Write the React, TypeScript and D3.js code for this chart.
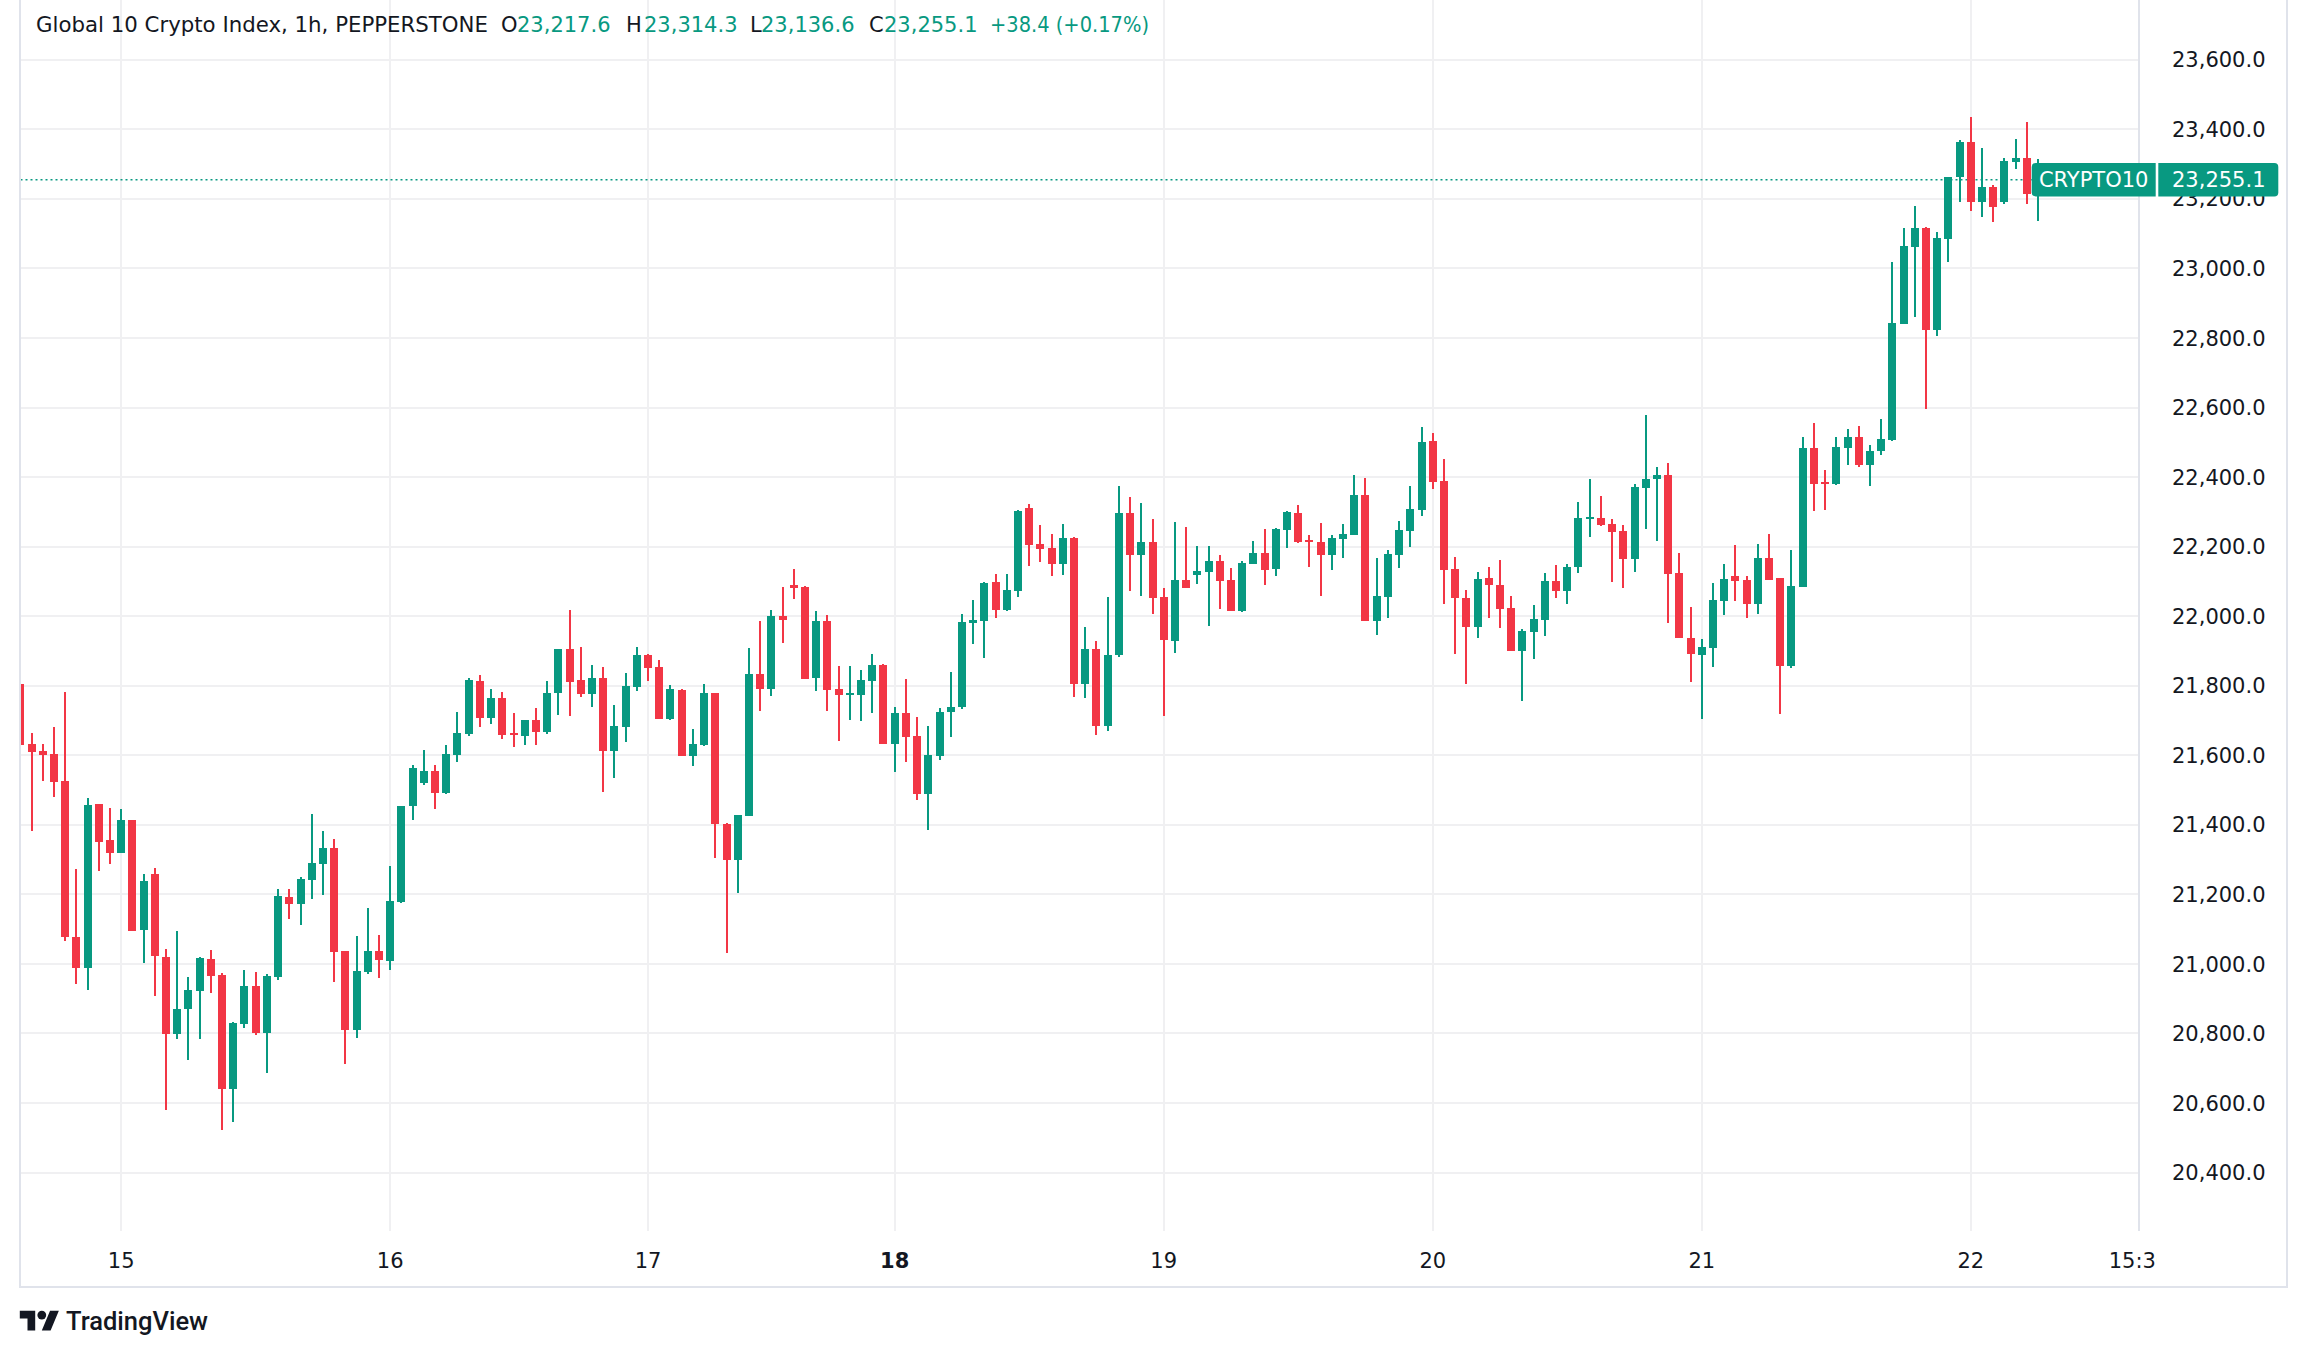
import React from 'react';
import * as d3 from 'd3';

// ---------- DATA (hourly candles) ----------
const opens = [
  21805, 21632, 21612, 21604, 21526, 21077, 20989, 21460, 21356, 21320,
  21414, 21098, 21259, 21020, 20799, 20869, 20923, 21014, 20968, 20641,
  20828, 20937, 20801, 20963, 21192, 21173, 21242, 21288, 21333, 21037,
  20811, 20977, 21037, 21009, 21178, 21455, 21520, 21555, 21492, 21602,
  21662, 21814, 21708, 21765, 21664, 21656, 21701, 21668, 21779, 21905,
  21816, 21777, 21822, 21613, 21682, 21797, 21888, 21854, 21705, 21788,
  21599, 21631, 21779, 21403, 21300, 21426, 21834, 21792, 22001, 22090,
  22084, 21823, 21986, 21791, 21774, 21774, 21815, 21860, 21633, 21722,
  21655, 21490, 21598, 21725, 21739, 21981, 21987, 22098, 22019, 22073,
  22311, 22208, 22196, 22151, 22225, 21806, 21906, 21685, 21889, 22297,
  22177, 22213, 22055, 21930, 22104, 22119, 22128, 22159, 22104, 22016,
  22151, 22182, 22137, 22249, 22297, 22219, 22213, 22177, 22223, 22234,
  22348, 21987, 22056, 22177, 22246, 22306, 22504, 22389, 22136, 22052,
  21970, 22110, 22090, 22023, 21901, 21955, 21990, 22101, 22071, 22140,
  22280, 22282, 22265, 22245, 22163, 22370, 22394, 22406, 22124, 21937,
  21889, 21909, 22045, 22116, 22104, 22036, 22167, 22110, 21858, 22085,
  22484, 22386, 22379, 22483, 22515, 22435, 22474, 22507, 22841, 23062,
  23117, 22823, 23085, 23264, 23363, 23192, 23234, 23190, 23307, 23318,
  23217.6,
];
const highs = [
  21903, 21663, 21632, 21680, 21782, 21273, 21477, 21460, 21448, 21446,
  21415, 21259, 21276, 21043, 21095, 20962, 21020, 21040, 20974, 20833,
  20983, 20977, 20971, 21215, 21215, 21250, 21431, 21382, 21359, 21037,
  21080, 21161, 21083, 21282, 21455, 21572, 21615, 21572, 21630, 21724,
  21822, 21831, 21791, 21782, 21722, 21702, 21736, 21814, 21906, 22018,
  21911, 21860, 21854, 21745, 21837, 21911, 21890, 21874, 21802, 21790,
  21676, 21805, 21780, 21405, 21429, 21909, 21986, 22018, 22084, 22136,
  22087, 22015, 22003, 21857, 21857, 21845, 21891, 21862, 21739, 21819,
  21710, 21684, 21737, 21840, 22006, 22047, 22098, 22121, 22121, 22305,
  22323, 22262, 22236, 22265, 22228, 21970, 21929, 22056, 22375, 22343,
  22325, 22279, 22081, 22271, 22256, 22202, 22202, 22176, 22139, 22159,
  22216, 22251, 22254, 22302, 22320, 22233, 22268, 22233, 22265, 22406,
  22397, 22167, 22190, 22274, 22374, 22544, 22527, 22452, 22170, 22075,
  22127, 22141, 22162, 22058, 21963, 22032, 22124, 22147, 22150, 22328,
  22394, 22346, 22279, 22262, 22380, 22579, 22429, 22440, 22182, 22026,
  21934, 22095, 22150, 22205, 22116, 22208, 22236, 22111, 22190, 22515,
  22556, 22421, 22515, 22538, 22546, 22492, 22566, 23018, 23115, 23179,
  23119, 23105, 23263, 23370, 23435, 23346, 23241, 23318, 23372, 23421,
  23314.3,
];
const lows = [
  21625, 21383, 21527, 21481, 21067, 20943, 20926, 21268, 21287, 21318,
  21094, 21004, 20909, 20581, 20785, 20725, 20785, 20917, 20523, 20546,
  20817, 20796, 20687, 20954, 21130, 21113, 21188, 21199, 20949, 20713,
  20788, 20972, 20961, 20984, 21176, 21414, 21515, 21446, 21490, 21581,
  21656, 21682, 21690, 21648, 21625, 21630, 21630, 21662, 21716, 21714,
  21769, 21740, 21495, 21536, 21639, 21786, 21815, 21704, 21702, 21598,
  21570, 21628, 21306, 21032, 21205, 21425, 21728, 21771, 21924, 22050,
  21819, 21786, 21728, 21642, 21702, 21700, 21723, 21632, 21553, 21582,
  21470, 21385, 21586, 21654, 21733, 21921, 21881, 21996, 22016, 22056,
  22145, 22157, 22116, 22119, 21769, 21766, 21659, 21671, 21884, 22073,
  22059, 22007, 21714, 21895, 22080, 22093, 21973, 22022, 22014, 22013,
  22150, 22091, 22116, 22197, 22211, 22142, 22059, 22134, 22168, 22233,
  21986, 21947, 21996, 22139, 22200, 22289, 22367, 22036, 21892, 21806,
  21938, 21996, 21967, 21899, 21757, 21878, 21944, 22053, 22036, 22125,
  22229, 22259, 22099, 22082, 22128, 22252, 22217, 21981, 21937, 21812,
  21705, 21855, 22004, 22045, 21996, 22007, 22104, 21720, 21852, 22083,
  22301, 22304, 22377, 22436, 22430, 22373, 22464, 22505, 22840, 22859,
  22595, 22806, 23017, 23191, 23166, 23147, 23134, 23186, 23287, 23186,
  23136.6,
];
const closes = [
  21630, 21609, 21602, 21524, 21078, 20989, 21457, 21352, 21320, 21414,
  21096, 21238, 21024, 20799, 20870, 20925, 21017, 20966, 20641, 20830,
  20937, 20801, 20965, 21195, 21173, 21244, 21290, 21333, 21035, 20811,
  20980, 21037, 21012, 21181, 21454, 21563, 21555, 21492, 21604, 21664,
  21816, 21708, 21765, 21659, 21659, 21701, 21668, 21779, 21905, 21812,
  21777, 21822, 21613, 21684, 21799, 21888, 21852, 21705, 21791, 21599,
  21632, 21779, 21401, 21300, 21428, 21834, 21792, 22001, 21990, 22082,
  21820, 21986, 21789, 21774, 21779, 21816, 21860, 21633, 21722, 21654,
  21490, 21601, 21724, 21739, 21983, 21989, 22095, 22019, 22075, 22302,
  22206, 22194, 22151, 22225, 21806, 21906, 21685, 21888, 22297, 22177,
  22213, 22053, 21932, 22104, 22082, 22130, 22159, 22102, 22016, 22153,
  22182, 22134, 22251, 22300, 22214, 22214, 22177, 22225, 22236, 22348,
  21987, 22058, 22179, 22248, 22308, 22501, 22387, 22134, 22053, 21970,
  22107, 22091, 22022, 21901, 21957, 21992, 22101, 22071, 22141, 22282,
  22285, 22262, 22243, 22163, 22371, 22394, 22406, 22122, 21938, 21892,
  21911, 22047, 22107, 22102, 22036, 22167, 22105, 21858, 22087, 22484,
  22381, 22381, 22487, 22515, 22435, 22475, 22509, 22843, 23064, 23116,
  22823, 23088, 23262, 23363, 23192, 23234, 23178, 23309, 23318, 23215,
  23255.1,
];

const dayTickLabels = ['15', '16', '17', '18', '19', '20', '21', '22', '15:30'];
const dayTickIndex = [9, 33, 56, 78, 102, 126, 150, 174, 189];
const boldTickLabels = ['18'];
const priceTicks = d3.range(20400, 23601, 200);

const titleText = 'Global 10 Crypto Index, 1h, PEPPERSTONE';
const symbolText = 'CRYPTO10';
const legendKeys = ['O', 'H', 'L', 'C'];
const changeText = '+38.4 (+0.17%)';

// ---------- STYLE / LAYOUT ----------
const W = 2308;
const H = 1357;
const UP = '#089981';
const DOWN = '#F23645';
const TEXT = '#131722';
const GRID = '#f0f0f2';
const BORDER = '#e0e3eb';
const FONT = "'DejaVu Sans', sans-serif";
const FS = 21;

const paneLeft = 20.5;
const paneRight = 2139;
const paneBottom = 1231;
const axisBottom = 1287;
const outerRight = 2287;

export default function App() {
  const n = closes.length;
  const x = d3.scaleLinear().domain([0, 180]).range([20.3, 2038.1]);
  const y = d3.scaleLinear().domain([20400, 23600]).range([1172.6, 59.75]);
  const fmt = d3.format(',.1f');

  const last = closes[n - 1];
  const yLast = y(last);
  const legendVals = [opens[n - 1], highs[n - 1], lows[n - 1], closes[n - 1]];
  const legendKeyX = [501, 626, 750, 869];
  const legendValX = [517, 644, 761, 884];

  const candles = d3.range(n).map((i) => {
    const o = opens[i];
    const c = closes[i];
    const up = c >= o;
    const cx = Math.round(x(i));
    const top = Math.round(y(Math.max(o, c)));
    const bot = Math.round(y(Math.min(o, c)));
    const hy = Math.round(y(highs[i]));
    const ly = Math.round(y(lows[i]));
    const col = up ? UP : DOWN;
    return (
      <g key={i}>
        <rect x={cx - 1} y={hy} width={2} height={Math.max(1, ly - hy)} fill={col} />
        <rect x={cx - 4} y={top} width={8} height={Math.max(2, bot - top)} fill={col} />
      </g>
    );
  });

  const boxH = 16.7;
  const r = 4;
  const lbx1 = 2031.7, lbx2 = 2155.7;
  const pbx1 = 2158.3, pbx2 = 2278.3;
  const yt = yLast - boxH, yb = yLast + boxH;
  const leftBox = `M${lbx2},${yt} L${lbx1 + r},${yt} Q${lbx1},${yt} ${lbx1},${yt + r} L${lbx1},${yb - r} Q${lbx1},${yb} ${lbx1 + r},${yb} L${lbx2},${yb} Z`;
  const rightBox = `M${pbx1},${yt} L${pbx2 - r},${yt} Q${pbx2},${yt} ${pbx2},${yt + r} L${pbx2},${yb - r} Q${pbx2},${yb} ${pbx2 - r},${yb} L${pbx1},${yb} Z`;

  return (
    <svg
      width={W}
      height={H}
      viewBox={`0 0 ${W} ${H}`}
      style={{ position: 'absolute', left: 0, top: 0, background: '#fff' }}
      fontFamily={FONT}
    >
      <defs>
        <clipPath id="pane">
          <rect x={paneLeft} y={0} width={paneRight - paneLeft} height={paneBottom} />
        </clipPath>
        <clipPath id="timeaxis">
          <rect x={paneLeft} y={paneBottom} width={2157 - paneLeft} height={axisBottom - paneBottom} />
        </clipPath>
      </defs>
      <rect x={0} y={0} width={W} height={H} fill="#fff" />

      {/* grid */}
      <g shapeRendering="crispEdges">
        {priceTicks.map((p) => (
          <line key={p} x1={paneLeft} x2={paneRight} y1={y(p)} y2={y(p)} stroke={GRID} strokeWidth={2} />
        ))}
        {dayTickIndex.map((d, k) => (
          <line key={k} x1={x(d)} x2={x(d)} y1={0} y2={paneBottom} stroke={GRID} strokeWidth={2} />
        ))}
      </g>

      {/* last price line */}
      <line
        x1={paneLeft}
        x2={lbx1}
        y1={yLast}
        y2={yLast}
        stroke={UP}
        strokeWidth={1.6}
        strokeDasharray="2 3"
      />

      {/* candles */}
      <g clipPath="url(#pane)" shapeRendering="crispEdges">{candles}</g>

      {/* frame */}
      <g shapeRendering="crispEdges" fill="none">
        <line x1={19.5} x2={19.5} y1={0} y2={axisBottom + 1} stroke={BORDER} strokeWidth={2} />
        <line x1={19.5} x2={outerRight + 1} y1={axisBottom} y2={axisBottom} stroke={BORDER} strokeWidth={2} />
        <line x1={outerRight} x2={outerRight} y1={0} y2={axisBottom} stroke={BORDER} strokeWidth={2} />
        <line x1={paneRight} x2={paneRight} y1={0} y2={paneBottom} stroke={BORDER} strokeWidth={2} />
      </g>

      {/* price axis labels */}
      <g fontSize={FS} fill={TEXT}>
        {priceTicks.map((p) => (
          <text key={p} x={2172} y={y(p) + 7.6}>
            {fmt(p)}
          </text>
        ))}
      </g>

      {/* time axis labels */}
      <g fontSize={FS} fill={TEXT} textAnchor="middle" clipPath="url(#timeaxis)">
        {dayTickLabels.map((t, k) => (
          <text
            key={t}
            x={x(dayTickIndex[k])}
            y={1267.6}
            fontWeight={boldTickLabels.includes(t) ? 'bold' : 'normal'}
          >
            {t}
          </text>
        ))}
      </g>

      {/* last price labels */}
      <path d={leftBox} fill={UP} />
      <path d={rightBox} fill={UP} />
      <text x={(lbx1 + lbx2) / 2} y={yLast + 7.6} fontSize={FS} fill="#fff" textAnchor="middle">
        {symbolText}
      </text>
      <text x={2172} y={yLast + 7.6} fontSize={FS} fill="#fff">
        {fmt(last)}
      </text>

      {/* legend header */}
      <g fontSize={FS}>
        <text x={36} y={32} fill={TEXT} textLength={452} lengthAdjust="spacingAndGlyphs">
          {titleText}
        </text>
        {legendKeys.map((k, i) => (
          <g key={k}>
            <text x={legendKeyX[i]} y={32} fill={TEXT}>
              {k}
            </text>
            <text x={legendValX[i]} y={32} fill={UP}>
              {fmt(legendVals[i])}
            </text>
          </g>
        ))}
        <text x={990} y={32} fill={UP} textLength={159} lengthAdjust="spacingAndGlyphs">
          {changeText}
        </text>
      </g>

      {/* TradingView logo */}
      <g transform="translate(19.8,1306.3) scale(1.1)" fill={TEXT}>
        <path d="M14 22H7V11H0V4h14v18zM28 22h-8l7.5-18h8L28 22z" />
        <circle cx={20} cy={8} r={4} />
      </g>
      <text
        x={66}
        y={1330}
        fontFamily="Roboto, sans-serif"
        fontSize={26}
        fontWeight={500}
        fill={TEXT}
        textLength={142}
        lengthAdjust="spacingAndGlyphs"
      >
        TradingView
      </text>
    </svg>
  );
}
